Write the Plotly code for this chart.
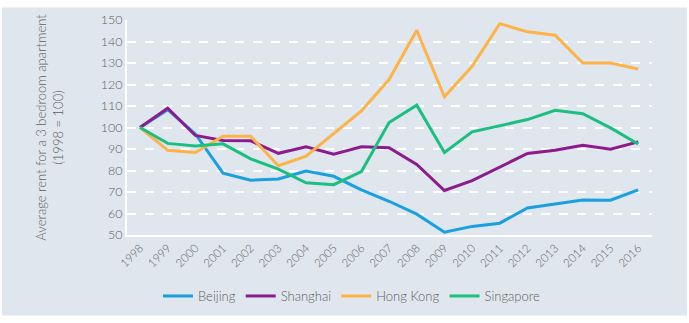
import plotly.graph_objects as go

years = list(range(1998, 2017))
beijing = [100, 108.3, 97, 78.8, 75.5, 76.1, 79.7, 77.3, 71, 65.7, 59.7, 51.3, 54, 55.5, 62.6, 64.5, 66.3, 66.2, 71]
shanghai = [100, 109, 96.3, 94, 93.8, 88, 91, 87.6, 91, 90.6, 82.8, 70.7, 75.3, 81.6, 87.9, 89.4, 91.7, 89.9, 93.3]
hong_kong = [100, 89.4, 88.4, 95.9, 95.9, 82.2, 86.7, 97.2, 107.7, 122.3, 145.2, 114.3, 128.5, 148.3, 144.5, 142.9, 130, 130, 127.2]
singapore = [100, 92.6, 91.4, 92.4, 85.4, 80.6, 74.3, 73.4, 79.5, 102.3, 110.4, 88.4, 98, 100.8, 103.7, 108, 106.4, 99.8, 92.3]

series = [
    ("Beijing", beijing, "#1a9fdf"),
    ("Shanghai", shanghai, "#8c1b8c"),
    ("Hong Kong", hong_kong, "#fdb347"),
    ("Singapore", singapore, "#1dbf80"),
]

W, H = 689, 323
ml, mr, mt, mb = 127, 37, 15, 86
pw, ph = W - ml - mr, H - mt - mb

fig = go.Figure()
for name, vals, col in series:
    fig.add_trace(go.Scatter(x=years, y=vals, name=name, mode="lines",
                             line=dict(color=col, width=3)))

def px_x(p):
    return (p - ml) / pw

def px_y(p):
    return (H - mb - p) / ph

bg = "#dfe6ee"
fig.add_shape(type="rect", xref="paper", yref="paper",
              x0=px_x(2), x1=px_x(687), y0=px_y(320), y1=px_y(2),
              fillcolor=bg, line=dict(width=0), layer="below")

font_color = "#5f5f5f"
fig.update_layout(
    width=W, height=H,
    margin=dict(l=ml, r=mr, t=mt, b=mb),
    paper_bgcolor="white",
    plot_bgcolor="rgba(0,0,0,0)",
    font=dict(family="Lato", color=font_color, size=12, weight=300),
    showlegend=True,
    legend=dict(orientation="h", x=px_x(352), xanchor="center", y=px_y(300), yanchor="middle",
                font=dict(size=13, color=font_color, weight=300), itemwidth=30,
                bgcolor="rgba(0,0,0,0)", traceorder="normal"),
    xaxis=dict(range=[1997.53, 2016.5], tickmode="array", tickvals=years,
               ticktext=[str(y) for y in years], tickangle=-45,
               showgrid=False, zeroline=False, showline=True, linecolor="white", linewidth=2,
               tickfont=dict(size=11.5, color=font_color, weight=300), ticks="", fixedrange=True),
    yaxis=dict(range=[50, 150], tickvals=list(range(50, 151, 10)),
               showgrid=True, gridcolor="white", griddash="dash", gridwidth=2,
               zeroline=False, showline=True, linecolor="white", linewidth=2,
               tickfont=dict(size=12.5, color=font_color, weight=300), ticks="",
               title=dict(text="Average rent for a 3 bedroom apartment<br>(1998 = 100)",
                          font=dict(size=13, color=font_color, weight=300), standoff=34)),
)

fig.write_html("out.html")
